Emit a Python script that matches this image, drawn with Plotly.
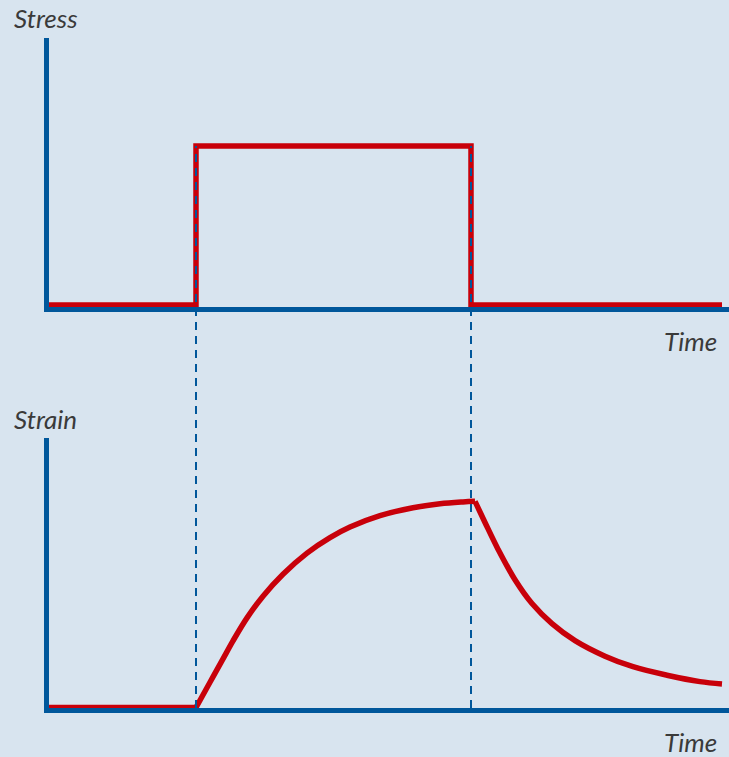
import plotly.graph_objects as go

# ---- data ----
stress_t = [0, 3.0, 3.0, 8.5, 8.5, 13.52]
stress_v = [0, 0, 1, 1, 0, 0]

base_t = [0, 3.0]
base_v = [0, 0]
rise_t = [3.0, 3.28, 3.54, 3.74, 4.02, 4.34, 4.74, 5.22, 5.68, 6.08, 6.68, 7.34, 7.88, 8.34, 8.58]
rise_v = [0.0, 0.122, 0.235, 0.322, 0.433, 0.538, 0.644, 0.746, 0.821, 0.872, 0.927, 0.965, 0.984, 0.993, 0.996]
decay_t = [8.58, 8.78, 9.04, 9.38, 9.72, 10.12, 10.58, 11.18, 11.74, 12.42, 13.08, 13.52]
decay_v = [0.996, 0.894, 0.765, 0.617, 0.502, 0.405, 0.323, 0.248, 0.197, 0.156, 0.125, 0.114]

load_on, load_off = 3.0, 8.5

# ---- style ----
BG = "#d8e4ef"
BLUE = "#00579b"
RED = "#c8000a"
TXT = "#3a3a3a"
FONT = "Lato"

W, H = 729, 757
L, R, T, B = 49, 0, 38, 49
PW, PH = W - L - R, H - T - B

def py(p):  # pixel y -> paper y
    return (H - B - p) / PH

def px(p):
    return (p - L) / PW

top_dom = [py(307), 1.0]
bot_dom = [0.0, py(438)]
top_rng = [-0.0126, 1.679]
bot_rng = [-0.0024, 1.302]
x_rng = [0.06, 13.66]

fig = go.Figure()
fig.add_trace(go.Scatter(x=stress_t, y=stress_v, mode="lines",
                         line=dict(color=RED, width=5.5), xaxis="x", yaxis="y",
                         cliponaxis=False, hoverinfo="skip"))
for tt, vv, shp in [(base_t, base_v, "linear"), (rise_t, rise_v, "spline"), (decay_t, decay_v, "spline")]:
    fig.add_trace(go.Scatter(x=tt, y=vv, mode="lines",
                             line=dict(color=RED, width=5.5, shape=shp, smoothing=1.0),
                             xaxis="x2", yaxis="y2", cliponaxis=False, hoverinfo="skip"))

# dashed guides from bottom axis up to the stress step level
y_top = top_dom[0] + (1 - top_rng[0]) / (top_rng[1] - top_rng[0]) * (top_dom[1] - top_dom[0])
for xv in (load_on, load_off):
    fig.add_shape(type="line", xref="x", yref="paper", x0=xv, x1=xv, y0=0, y1=y_top,
                  line=dict(color=BLUE, width=2, dash="8px,6px"), layer="above")

axis_common = dict(showline=True, linewidth=5, linecolor=BLUE, showgrid=False,
                   zeroline=False, showticklabels=False, ticks="")

fig.update_layout(
    width=W, height=H,
    margin=dict(l=L, r=R, t=T, b=B),
    paper_bgcolor=BG, plot_bgcolor=BG,
    showlegend=False,
    xaxis=dict(domain=[0, 1], range=x_rng, anchor="y", **axis_common),
    yaxis=dict(domain=top_dom, range=top_rng, anchor="x", **axis_common),
    xaxis2=dict(domain=[0, 1], range=x_rng, anchor="y2", **axis_common),
    yaxis2=dict(domain=bot_dom, range=bot_rng, anchor="x2", **axis_common),
)

def label(text, xpix, ypix, anchor):
    fig.add_annotation(text="<i>%s</i>" % text, xref="paper", yref="paper",
                       x=px(xpix), y=py(ypix), xanchor=anchor, yanchor="middle",
                       showarrow=False, font=dict(family=FONT, size=26, color=TXT))

label("Stress", 12, 18, "left")
label("Time", 719, 341, "right")
label("Strain", 12, 419, "left")
label("Time", 719, 742, "right")

fig.write_html("out.html", config={"displayModeBar": False},
               post_script="document.body.style.margin='0px';document.body.style.overflow='hidden';document.body.style.background='%s';" % BG)
